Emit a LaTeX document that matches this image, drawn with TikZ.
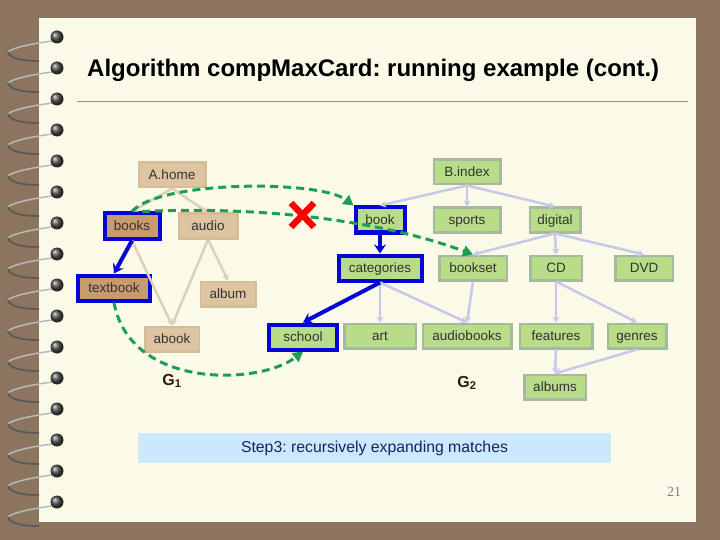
\documentclass[tikz,border=0pt]{standalone}
\usepackage{fontspec}
\setmainfont{Liberation Sans}
\newfontfamily\pagefont{Liberation Serif}
\usetikzlibrary{arrows.meta,positioning}
\frenchspacing

\definecolor{deskbrown}{RGB}{140,117,95}
\definecolor{paper}{RGB}{251,250,232}
\definecolor{ruleline}{RGB}{160,140,112}
\definecolor{tanfill}{RGB}{222,196,160}
\definecolor{tandark}{RGB}{200,155,110}
\definecolor{tanline}{RGB}{212,190,152}
\definecolor{greenfill}{RGB}{184,220,136}
\definecolor{greenline}{RGB}{165,185,160}
\definecolor{hitblue}{RGB}{5,5,215}
\definecolor{bedgecol}{RGB}{200,200,232}
\definecolor{aedgecol}{RGB}{222,208,180}
\definecolor{mapgreen}{RGB}{30,158,82}
\definecolor{stepfill}{RGB}{204,232,252}
\definecolor{steptext}{RGB}{25,35,95}

\tikzset{
  box/.style={draw, line width=2.5pt, minimum height=24.5pt, inner xsep=6pt,
    inner ysep=0pt, text height=10.5pt, text depth=2pt,
    font=\fontsize{13.5}{15}\selectfont, text=black!80},
  tannode/.style={box, fill=tanfill, draw=tanline},
  greennode/.style={box, fill=greenfill, draw=greenline},
  matched/.style={draw=hitblue, line width=4pt, minimum height=25pt},
  aedge/.style={draw=aedgecol, line width=2.5pt, -{Stealth[length=6pt,width=7pt]}},
  bedge/.style={draw=bedgecol, line width=2.5pt, -{Stealth[length=6pt,width=7pt]}},
  hitedge/.style={draw=hitblue, line width=4pt, -{Stealth[length=9pt,width=12pt]}},
  mapedge/.style={draw=mapgreen, line width=3pt, dash pattern=on 8pt off 5pt,
    -{Triangle[length=10pt,width=11pt]}},
  glabel/.style={font=\fontsize{16}{18}\selectfont\bfseries, text={rgb,255:red,45;green,30;blue,10}}
}

\begin{document}
\begin{tikzpicture}[x=1pt,y=-1pt]
% page
\fill[deskbrown] (0,0) rectangle (720,540);
\fill[paper] (39,18) rectangle (696,522);

% spiral binding
\foreach \k in {0,...,15}{
  \pgfmathsetmacro\yy{37+31*\k}
  \draw[line width=1.5pt, gray!55] (52,\yy+4) .. controls (30,\yy+7) and (12,\yy+11) .. (8,\yy+15);
  \draw[line width=1.8pt, black!65] (8,\yy+15) .. controls (10,\yy+22) and (24,\yy+24) .. (39,\yy+24);
  \shade[ball color=gray!60!black] (57,\yy) circle (6.5pt);
}

% title
\node[anchor=base west, inner sep=0pt, font=\fontsize{24}{27}\selectfont\bfseries] (title) at (87,77)
  {Algorithm compMaxCard: running example (cont.)};
\draw[ruleline, line width=1pt] (77,102) -- (688,102);

% G1
\node[tannode, minimum width=66.5pt] (ahome) at (172,175) {A.home};
\node[tannode, matched, fill=tandark, minimum width=55pt] (books) at (132,226) {books};
\node[tannode, minimum width=58.5pt] (audio) at (208,226) {audio};
\node[tannode, matched, fill=tandark, minimum width=72pt] (textbook) at (114,288) {textbook};
\node[tannode, minimum width=54.5pt] (album) at (228,294) {album};
\node[tannode, minimum width=53.5pt] (abook) at (172,339) {abook};

% G2
\node[greennode, minimum width=66.5pt] (bindex) at (467,172) {B.index};
\node[greennode, matched, minimum width=49pt] (book) at (380,220) {book};
\node[greennode, minimum width=66.5pt] (sports) at (467,220) {sports};
\node[greennode, minimum width=50.5pt] (digital) at (555,220) {digital};
\node[greennode, matched, minimum width=83pt] (categories) at (380,268) {categories};
\node[greennode, minimum width=67.5pt] (bookset) at (473,268) {bookset};
\node[greennode, minimum width=51.5pt] (cd) at (556,268) {CD};
\node[greennode, minimum width=57.5pt] (dvd) at (644,268) {DVD};
\node[greennode, matched, minimum width=68pt] (school) at (303,337) {school};
\node[greennode, minimum width=71.5pt] (art) at (380,336) {art};
\node[greennode, minimum width=88.5pt] (audiobooks) at (467,336) {audiobooks};
\node[greennode, minimum width=72.5pt] (features) at (556,336) {features};
\node[greennode, minimum width=58.5pt] (genres) at (637,336) {genres};
\node[greennode, minimum width=61.5pt] (albums) at (555,387) {albums};

% edges of G1
\draw[aedge] (ahome.south) -- (books.north);
\draw[aedge] (ahome.south) -- (audio.north);
\draw[aedge] (books.south) -- (abook.north);
\draw[aedge] (audio.south) -- (abook.north);
\draw[aedge] (audio.south) -- (album.north);

% edges of G2
\draw[bedge] (bindex.south) -- (book.north);
\draw[bedge] (bindex.south) -- (sports.north);
\draw[bedge] (bindex.south) -- (digital.north);
\draw[bedge] (digital.south) -- (bookset.north);
\draw[bedge] (digital.south) -- (cd.north);
\draw[bedge] (digital.south) -- (dvd.north);
\draw[bedge] (categories.south) -- (art.north);
\draw[bedge] (categories.south) -- (audiobooks.north);
\draw[bedge] (bookset.south) -- (audiobooks.north);
\draw[bedge] (cd.south) -- (features.north);
\draw[bedge] (cd.south) -- (genres.north);
\draw[bedge] (features.south) -- (albums.north);
\draw[bedge] (genres.south) -- (albums.north);

% matched paths
\draw[hitedge] (books.south) -- (textbook.north);
\draw[hitedge] (book.south) -- (categories.north);
\draw[hitedge] (categories.south) -- (school.north);

% mappings
\draw[mapedge] (books.north) .. controls (160,180) and (320,180) .. (book.north west);
\draw[mapedge] ([xshift=10pt]books.north) .. controls (260,206) and (380,220) .. (bookset.north);
\draw[mapedge] (textbook.south) .. controls (130,390) and (260,385) .. (school.south);
\draw[red, line width=6.5pt] (291,203) -- (314,227) (314,203) -- (291,227);

% labels
\node[glabel] (gone) at (172,381) {G\textsubscript{1}};
\node[glabel] (gtwo) at (467,383) {G\textsubscript{2}};

\node[fill=stepfill, minimum width=473pt, minimum height=30pt,
  font=\fontsize{15.8}{18}\selectfont, text=steptext] (step) at (374.5,448)
  {Step3: recursively expanding matches};

\node[font=\pagefont\fontsize{14}{16}\selectfont, text=gray] (pagenum) at (674,492) {21};
\end{tikzpicture}
\end{document}
